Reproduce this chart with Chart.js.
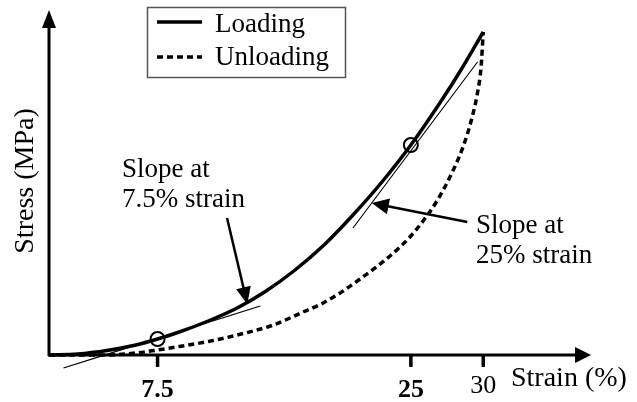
<!DOCTYPE html>
<html>
<head>
<meta charset="utf-8">
<script src="https://cdn.jsdelivr.net/npm/chart.js@4"></script>
<style>
  html, body { margin: 0; padding: 0; background: #fff; }
  #wrap { width: 637px; height: 402px; position: relative; }
</style>
</head>
<body>
<div id="wrap"><canvas id="stressChart"></canvas></div>
<script>
/* ================================
   Data
================================ */
const loadStrain = [0, 2, 4, 6, 7.5, 9, 11, 13, 15, 17, 19, 21, 23, 25, 27, 28.5, 30];
const loadStress = [0, 0.1, 0.45, 1.0, 1.6, 2.3, 3.4, 4.7, 6.4, 8.5, 11.0, 14.0, 17.3, 21.0, 25.2, 28.6, 32.3];

const unloadStrain = [0, 4, 6, 7.5, 9, 11, 13, 15.5, 17.4, 18.8, 20, 21.3, 22.7, 24.1, 25, 26, 26.8, 27.7, 28.6, 29.2, 29.6, 29.85, 30];
const unloadStress = [0, 0, 0.2, 0.5, 0.85, 1.35, 2.0, 3.0, 4.2, 5.1, 6.1, 7.4, 8.9, 10.6, 11.9, 13.7, 15.4, 17.8, 20.8, 23.6, 26.2, 28.8, 32.3];

// tangent lines (two end points each)
const tan75Strain = [1.0, 14.6];
const tan75Stress = [-1.3, 4.9];
const tan25Strain = [21.0, 29.6];
const tan25Stress = [12.7, 29.3];

// hollow circle markers
const markStrain = [7.5, 25];
const markStress = [1.6, 21.0];

// x axis ticks
const tickStrain = [7.5, 25, 30];
const tickLabels = ["7.5", "25", "30"];
const tickBold = [true, true, false];

// where the axis arrows end (data units)
const xAxisEnd = 37.45;
const yAxisEnd = 34.5;

const SERIF = "'Liberation Serif', 'Times New Roman', serif";

function pts(xs, ys) {
  return xs.map((x, i) => ({ x, y: ys[i] }));
}

/* ================================
   Drawing helpers
================================ */
function arrowHead(ctx, x1, y1, x2, y2, len, half) {
  const a = Math.atan2(y2 - y1, x2 - x1);
  ctx.beginPath();
  ctx.moveTo(x2, y2);
  ctx.lineTo(x2 - len * Math.cos(a) + half * Math.sin(a), y2 - len * Math.sin(a) - half * Math.cos(a));
  ctx.lineTo(x2 - len * Math.cos(a) - half * Math.sin(a), y2 - len * Math.sin(a) + half * Math.cos(a));
  ctx.closePath();
  ctx.fill();
}

function arrow(ctx, x1, y1, x2, y2, width, len, half) {
  const a = Math.atan2(y2 - y1, x2 - x1);
  ctx.lineWidth = width;
  ctx.beginPath();
  ctx.moveTo(x1, y1);
  ctx.lineTo(x2 - (len - 2) * Math.cos(a), y2 - (len - 2) * Math.sin(a));
  ctx.stroke();
  arrowHead(ctx, x1, y1, x2, y2, len, half);
}

/* ================================
   Axes, labels, notes, legend
================================ */
const figurePlugin = {
  id: "figure",
  afterDatasetsDraw(chart) {
    const { ctx, scales: { x, y } } = chart;
    const x0 = x.getPixelForValue(0);
    const y0 = y.getPixelForValue(0);
    const xEnd = x.getPixelForValue(xAxisEnd);
    const yEnd = y.getPixelForValue(yAxisEnd);

    ctx.save();
    ctx.strokeStyle = "#000";
    ctx.fillStyle = "#000";
    ctx.lineCap = "butt";

    // axes with arrow heads
    arrow(ctx, x0, y0 + 1, x0, yEnd, 3, 18, 7);
    arrow(ctx, x0 - 1, y0, xEnd, y0, 3, 16, 8);

    // ticks + tick labels
    ctx.textAlign = "center";
    ctx.textBaseline = "alphabetic";
    tickStrain.forEach((v, i) => {
      const px = x.getPixelForValue(v);
      ctx.lineWidth = 3.5;
      ctx.beginPath();
      ctx.moveTo(px, y0);
      ctx.lineTo(px, y0 + 12);
      ctx.stroke();
      ctx.font = (tickBold[i] ? "bold " : "") + "26px " + SERIF;
      ctx.fillText(tickLabels[i], px, tickBold[i] ? 397 : 393);
    });

    // axis titles
    ctx.font = "28px " + SERIF;
    ctx.textAlign = "left";
    ctx.fillText("Strain (%)", 511, 386);
    ctx.save();
    ctx.translate(33, 181);
    ctx.rotate(-Math.PI / 2);
    ctx.textAlign = "center";
    ctx.fillText("Stress (MPa)", 0, 0);
    ctx.restore();

    // notes
    ctx.font = "27px " + SERIF;
    ctx.textAlign = "left";
    ctx.fillText("Slope at", 122, 177);
    ctx.fillText("7.5% strain", 122, 207);
    ctx.fillText("Slope at", 476, 233);
    ctx.fillText("25% strain", 476, 263);

    arrow(ctx, x.getPixelForValue(12.3), y.getPixelForValue(13.7),
      x.getPixelForValue(13.7), y.getPixelForValue(5.1), 2.5, 17, 7.5);
    arrow(ctx, x.getPixelForValue(28.9), y.getPixelForValue(13.3),
      x.getPixelForValue(22.3), y.getPixelForValue(15.2), 2.5, 17, 8);

    // legend
    ctx.strokeStyle = "#555";
    ctx.lineWidth = 1.5;
    ctx.strokeRect(147.5, 7.5, 198, 70);
    ctx.strokeStyle = "#000";
    ctx.lineWidth = 3.5;
    ctx.beginPath();
    ctx.moveTo(157, 22);
    ctx.lineTo(202, 22);
    ctx.stroke();
    ctx.setLineDash([6, 4]);
    ctx.beginPath();
    ctx.moveTo(157, 57);
    ctx.lineTo(202, 57);
    ctx.stroke();
    ctx.setLineDash([]);
    ctx.font = "27px " + SERIF;
    ctx.fillText("Loading", 215, 32);
    ctx.fillText("Unloading", 215, 65);

    ctx.restore();
  }
};

/* ================================
   Chart
================================ */
const lineStyle = {
  borderColor: "#000",
  pointRadius: 0,
  fill: false,
  cubicInterpolationMode: "monotone"
};

new Chart(document.getElementById("stressChart"), {
  type: "line",
  data: {
    datasets: [
      { ...lineStyle, label: "Loading", data: pts(loadStrain, loadStress), borderWidth: 3.5 },
      { ...lineStyle, label: "Unloading", data: pts(unloadStrain, unloadStress), borderWidth: 3.5, borderDash: [6, 4] },
      { ...lineStyle, label: "tan 7.5", data: pts(tan75Strain, tan75Stress), borderWidth: 1.2 },
      { ...lineStyle, label: "tan 25", data: pts(tan25Strain, tan25Stress), borderWidth: 1.2 },
      {
        label: "marks",
        type: "scatter",
        data: pts(markStrain, markStress),
        pointRadius: 7,
        pointBorderWidth: 2,
        pointBorderColor: "#000",
        pointBackgroundColor: "rgba(0,0,0,0)",
        showLine: false
      }
    ]
  },
  options: {
    responsive: true,
    maintainAspectRatio: false,
    animation: false,
    layout: { padding: { left: 49, right: 8, top: 10, bottom: 17 } },
    scales: {
      x: { type: "linear", min: 0, max: 40, display: false },
      y: { type: "linear", min: -3, max: 34.5, display: false }
    },
    plugins: {
      legend: { display: false },
      tooltip: { enabled: false }
    }
  },
  plugins: [figurePlugin]
});
</script>
</body>
</html>
